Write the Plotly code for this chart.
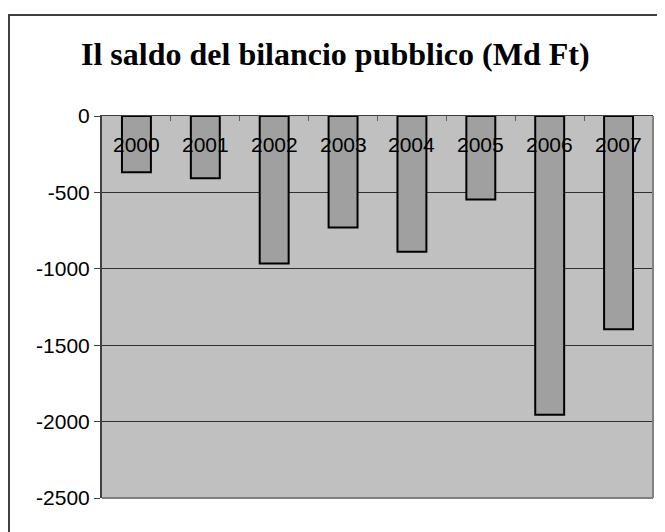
import plotly.graph_objects as go

years = ["2000", "2001", "2002", "2003", "2004", "2005", "2006", "2007"]
saldo = [-368, -407, -965, -730, -888, -546, -1955, -1395]
y_ticks = [0, -500, -1000, -1500, -2000, -2500]
title_text = "Il saldo del bilancio pubblico (Md Ft)"

# page is drawn with an 8px body margin, so figure coords = page coords - 8
OFF = 8
W, H = 665 - OFF, 532 - OFF
L, T = 102 - OFF, 116 - OFF
R, B = W - (653 - OFF), H - (498 - OFF)
pw, ph = W - L - R, H - T - B

def px_x(px):
    return (px - OFF - L) / pw

def px_y(py):
    return (H - B - (py - OFF)) / ph

fig = go.Figure()
fig.add_trace(go.Bar(
    x=years, y=saldo,
    marker=dict(color="#A0A0A0", line=dict(color="#000000", width=2)),
    width=0.42,
))

for i, yr in enumerate(years):
    fig.add_annotation(x=i, y=-188, text=yr, showarrow=False, yanchor="middle",
                       font=dict(family="Liberation Sans, Arial", size=21, color="#000000"),
                       xref="x", yref="y")

fig.update_layout(
    width=W, height=H,
    margin=dict(l=L, r=R, t=T, b=B),
    paper_bgcolor="#FFFFFF",
    plot_bgcolor="#C0C0C0",
    showlegend=False,
    title=dict(text="<b>" + title_text + "</b>", x=(81 - OFF) / W, xanchor="left",
               xref="container",
               y=1 - (54 - OFF) / H, yanchor="middle",
               font=dict(family="Liberation Serif, Times New Roman", size=32, color="#000000")),
    xaxis=dict(type="category", side="top", showticklabels=False, ticks="inside", ticklen=5,
               tickcolor="#606060", tickwidth=1, tickson="boundaries",
               showline=True, linecolor="#404040", linewidth=1,
               showgrid=False, range=[-0.5, 7.5]),
    yaxis=dict(range=[-2500, 0], tickvals=y_ticks, ticktext=[str(v) for v in y_ticks],
               ticks="outside", ticklen=6, tickcolor="#404040", tickwidth=1,
               showline=True, linecolor="#404040", linewidth=2,
               showgrid=True, gridcolor="#303030", gridwidth=1, zeroline=False,
               tickfont=dict(family="Liberation Sans, Arial", size=21, color="#000000")),
    shapes=[
        dict(type="line", xref="paper", yref="paper", x0=0, x1=1, y0=0, y1=0,
             line=dict(color="#808080", width=2)),
        dict(type="line", xref="paper", yref="paper", x0=1, x1=1, y0=0, y1=1,
             line=dict(color="#808080", width=2)),
        dict(type="rect", xref="paper", yref="paper",
             x0=px_x(9), x1=px_x(680), y0=px_y(15), y1=px_y(560),
             line=dict(color="#404040", width=2), fillcolor="rgba(0,0,0,0)", layer="below"),
    ],
)

fig.write_html("out.html")
